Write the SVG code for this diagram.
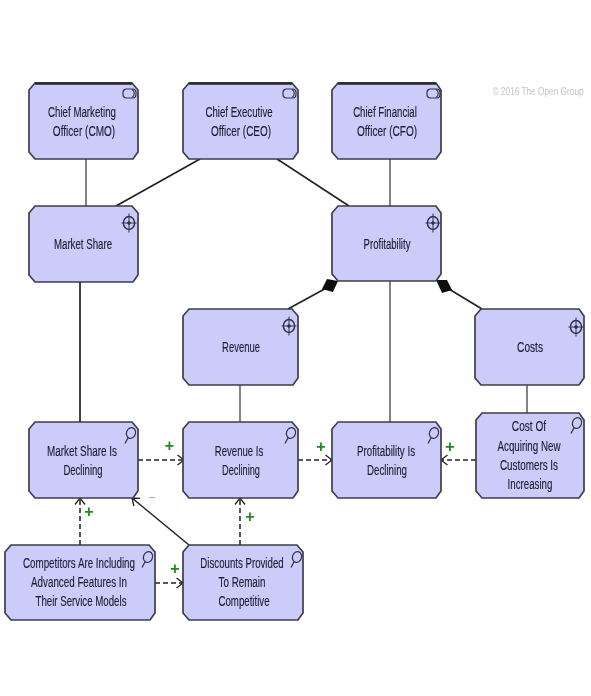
<svg xmlns="http://www.w3.org/2000/svg" width="591" height="696" viewBox="0 0 591 696">
<style>
.n{fill:#ccccfb;stroke:#3d3d4a;stroke-width:1.7}
.t{stroke:#26262e;stroke-width:2.4;fill:none}
text{font-family:"Liberation Sans",Arial,sans-serif;font-size:15px;fill:#1c1c30;stroke:#1c1c30;stroke-width:.15;text-anchor:middle}
.c{font-size:11px;fill:#c4c4c4;stroke:none}
.p{font-size:16px;font-weight:bold;fill:#1e8a1e;stroke:none}
.m{font-size:13px;fill:#e08a8a;stroke:none}
.l{fill:none;stroke:#333;stroke-width:1.2}
.k{fill:none;stroke:#222;stroke-width:1.7}
.d{fill:none;stroke:#222;stroke-width:1.5;stroke-dasharray:5 3;marker-end:url(#a)}
.i{fill:none;stroke:#33334a;stroke-width:1.2}
</style>
<defs>
<filter id="soft" filterUnits="userSpaceOnUse" x="0" y="0" width="591" height="696"><feGaussianBlur stdDeviation="0.4"/></filter>
<marker id="a" markerUnits="userSpaceOnUse" markerWidth="10" markerHeight="12" refX="8.5" refY="6" orient="auto"><path d="M2 1L8.5 6L2 11" fill="none" stroke="#222" stroke-width="1.3"/></marker>
<g id="cap"><ellipse rx="5.6" ry="6.4" class="i" style="stroke-width:1.5"/><circle r="1.8" fill="#222"/><path d="M0-9.500V9.500M-7.500 0H7.500" class="i" style="stroke-width:1"/></g>
<g id="role"><rect x="0" y="0" width="13" height="9" rx="3.5" class="i"/><path d="M9 0.5C12 2 12 7 9 8.5" class="i"/></g>
<g id="mag"><ellipse rx="4.5" ry="5.5" transform="rotate(20)" class="i" style="stroke-width:1.2"/><path d="M-2.800 4.500L-6 10.500" class="i" style="stroke-width:1.3"/></g>
</defs>
<g filter="url(#soft)">
<g id="connectors">
<path class="l" d="M86 159V206M390 159V206M240 385V422M390 281V422M527 385V413"/>
<path class="k" d="M200 159L116 206M277 159L349 206M80 282V422M330 286L288 309M444 286L482 309"/>
<path d="M338 281L327 279L322 289L333 292Z" fill="#111"/>
<path d="M436 280L447 280L452 290L442 293Z" fill="#111"/>
<path class="d" d="M138 460H184"/>
<path class="d" d="M298 460H332"/>
<path class="d" d="M476 460H441"/>
<path class="d" d="M80 545V498"/>
<path class="d" d="M240 545V498"/>
<path class="d" d="M155 583H183"/>
<path class="k" style="stroke-width:1.5;marker-end:url(#a)" d="M189 545L132 498"/>
</g>
<g id="cmo"><path class="n" d="M35 83H132L138 90V152L133 159H35L29 152V90Z"/><path class="t" d="M35 83.5H132"/><use href="#role" x="123" y="89"/>
<text transform="translate(82 117) scale(.7 1)" textLength="97" lengthAdjust="spacingAndGlyphs">Chief Marketing</text><text transform="translate(84 136) scale(.7 1)" textLength="89" lengthAdjust="spacingAndGlyphs">Officer (CMO)</text></g>
<g id="ceo"><path class="n" d="M189 83H292L298 90V152L293 159H189L183 152V90Z"/><path class="t" d="M189 83.5H292"/><use href="#role" x="283" y="89"/>
<text transform="translate(239 117) scale(.7 1)" textLength="96" lengthAdjust="spacingAndGlyphs">Chief Executive</text><text transform="translate(241 136) scale(.7 1)" textLength="86" lengthAdjust="spacingAndGlyphs">Officer (CEO)</text></g>
<g id="cfo"><path class="n" d="M338 83H436L441 90V152L436 159H338L332 152V90Z"/><path class="t" d="M338 83.5H436"/><use href="#role" x="427" y="89"/>
<text transform="translate(385 117) scale(.7 1)" textLength="91" lengthAdjust="spacingAndGlyphs">Chief Financial</text><text transform="translate(387 136) scale(.7 1)" textLength="86" lengthAdjust="spacingAndGlyphs">Officer (CFO)</text></g>
<text class="c" transform="translate(538 95) scale(.8 1)" textLength="114" lengthAdjust="spacingAndGlyphs">© 2016 The Open Group</text>
<g id="market-share"><path class="n" d="M35 206H132L138 213V275L133 282H35L29 275V213Z"/><use href="#cap" x="129" y="223"/>
<text transform="translate(83 249) scale(.7 1)" textLength="83" lengthAdjust="spacingAndGlyphs">Market Share</text></g>
<g id="profitability"><path class="n" d="M338 206H436L441 213V274L436 281H338L332 274V213Z"/><use href="#cap" x="433" y="223"/>
<text transform="translate(387 249) scale(.7 1)" textLength="67" lengthAdjust="spacingAndGlyphs">Profitability</text></g>
<g id="revenue"><path class="n" d="M189 309H292L298 316V378L293 385H189L183 378V316Z"/><use href="#cap" x="289" y="326"/>
<text transform="translate(241 352) scale(.7 1)" textLength="54" lengthAdjust="spacingAndGlyphs">Revenue</text></g>
<g id="costs"><path class="n" d="M481 309H579L584 316V378L579 385H481L475 378V316Z"/><use href="#cap" x="576" y="327"/>
<text transform="translate(530 352) scale(.7 1)" textLength="37" lengthAdjust="spacingAndGlyphs">Costs</text></g>
<g id="ms-declining"><path class="n" d="M35 422H132L138 429V491L133 498H35L29 491V429Z"/><use href="#mag" x="131" y="433"/>
<text transform="translate(82 456) scale(.7 1)" textLength="100" lengthAdjust="spacingAndGlyphs">Market Share Is</text><text transform="translate(83 475) scale(.7 1)" textLength="56" lengthAdjust="spacingAndGlyphs">Declining</text></g>
<g id="rev-declining"><path class="n" d="M189 422H292L298 429V491L293 498H189L183 491V429Z"/><use href="#mag" x="291" y="433"/>
<text transform="translate(239 456) scale(.7 1)" textLength="69" lengthAdjust="spacingAndGlyphs">Revenue Is</text><text transform="translate(241 475) scale(.7 1)" textLength="54" lengthAdjust="spacingAndGlyphs">Declining</text></g>
<g id="prof-declining"><path class="n" d="M338 422H436L441 429V491L436 498H338L332 491V429Z"/><use href="#mag" x="434" y="433"/>
<text transform="translate(386 456) scale(.7 1)" textLength="83" lengthAdjust="spacingAndGlyphs">Profitability Is</text><text transform="translate(387 475) scale(.7 1)" textLength="57" lengthAdjust="spacingAndGlyphs">Declining</text></g>
<g id="cost-acquiring"><path class="n" d="M482 413H579L584 420V491L579 498H482L476 491V420Z"/><use href="#mag" x="577" y="423"/>
<text transform="translate(529 431) scale(.7 1)" textLength="49" lengthAdjust="spacingAndGlyphs">Cost Of</text><text transform="translate(529 451) scale(.7 1)" textLength="90" lengthAdjust="spacingAndGlyphs">Acquiring New</text><text transform="translate(529 470) scale(.7 1)" textLength="83" lengthAdjust="spacingAndGlyphs">Customers Is</text><text transform="translate(530 489) scale(.7 1)" textLength="64" lengthAdjust="spacingAndGlyphs">Increasing</text></g>
<g id="competitors"><path class="n" d="M11 545H149L155 552V613L150 620H11L5 613V552Z"/><use href="#mag" x="148" y="557"/>
<text transform="translate(79 568) scale(.7 1)" textLength="160" lengthAdjust="spacingAndGlyphs">Competitors Are Including</text><text transform="translate(79 587) scale(.7 1)" textLength="137" lengthAdjust="spacingAndGlyphs">Advanced Features In</text><text transform="translate(81 606) scale(.7 1)" textLength="130" lengthAdjust="spacingAndGlyphs">Their Service Models</text></g>
<g id="discounts"><path class="n" d="M189 545H297L303 552V613L298 620H189L183 613V552Z"/><use href="#mag" x="297" y="557"/>
<text transform="translate(242 568) scale(.7 1)" textLength="119" lengthAdjust="spacingAndGlyphs">Discounts Provided</text><text transform="translate(242 587) scale(.7 1)" textLength="67" lengthAdjust="spacingAndGlyphs">To Remain</text><text transform="translate(244 606) scale(.7 1)" textLength="73" lengthAdjust="spacingAndGlyphs">Competitive</text></g>
<g id="signs">
<text class="p" x="169.500" y="451">+</text><text class="p" x="321" y="452">+</text><text class="p" x="450" y="452">+</text><text class="p" x="89" y="517">+</text><text class="p" x="250" y="522">+</text><text class="p" x="175" y="574">+</text><text class="m" x="152" y="502">−</text>
</g>
</g>
</svg>
